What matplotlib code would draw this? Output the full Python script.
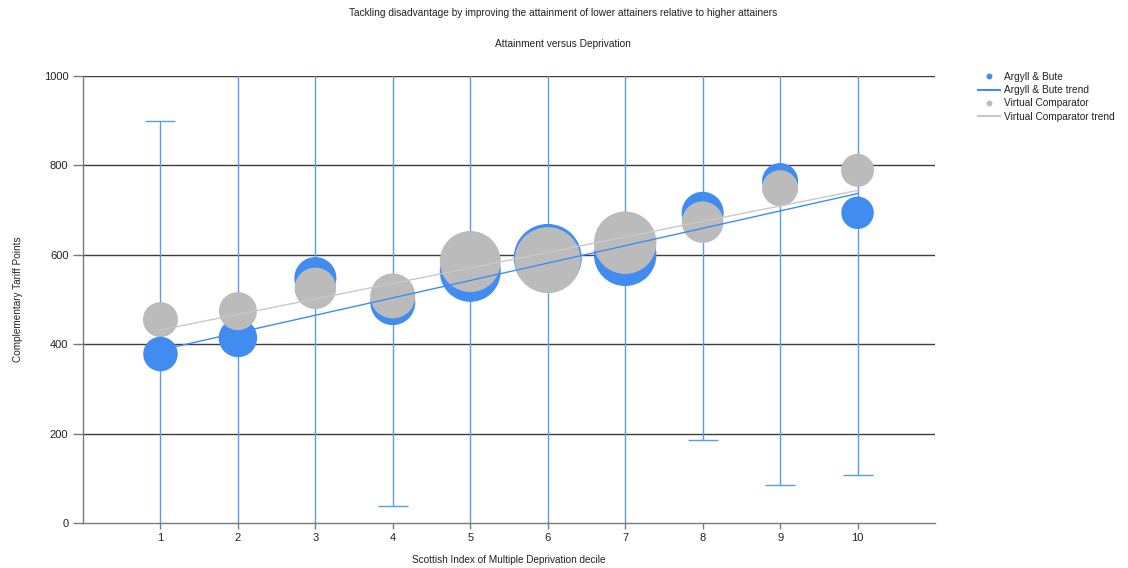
import matplotlib
matplotlib.use("Agg")
import matplotlib.pyplot as plt
from matplotlib.lines import Line2D
import numpy as np

plt.rcParams['font.family'] = ['Liberation Sans', 'DejaVu Sans']

# ---- data ----
deciles = [1, 2, 3, 4, 5, 6, 7, 8, 9, 10]
ab_points = [378, 414, 548, 493, 563, 593, 600, 694, 765, 694]
vc_points = [455, 474, 525, 508, 585, 588, 627, 673, 749, 789]
ab_size = [34.5, 38.5, 42, 45, 61, 68, 62.5, 42, 36, 32.5]
vc_size = [35, 38, 41.5, 45, 61, 66, 62.5, 41.5, 36, 33]
ab_low = [-200, -200, -200, 38, -200, -200, -200, 186, 85, 107]
ab_high = [900, 1200, 1200, 1200, 1200, 1200, 1200, 1200, 1200, 1200]
trend_x = [1, 10]
ab_trend = [387, 737]
vc_trend = [432, 744]
yticks = [0, 200, 400, 600, 800, 1000]

title1 = "Tackling disadvantage by improving the attainment of lower attainers relative to higher attainers"
title2 = "Attainment versus Deprivation"

BLUE = '#418CF0'
GRAY = '#BBBBBB'
ERR = '#5B9BEB'

W, H = 1128, 568
fig = plt.figure(figsize=(W / 100, H / 100), dpi=100)
ax = fig.add_axes([83 / W, 1 - 523 / H, (935 - 83) / W, (523 - 76) / H])
ax.set_xlim(0, 11)
ax.set_ylim(0, 1000)

# gridlines
for yv in yticks[1:]:
    ax.axhline(yv, color='#3c3c3c', lw=1.0, zorder=1)

# error bars
ab_arr = np.array(ab_points, dtype=float)
lo = ab_arr - np.array(ab_low)
hi = np.array(ab_high) - ab_arr
ax.errorbar(deciles, ab_points, yerr=[lo, hi], fmt='none', ecolor=ERR,
            elinewidth=1.0, capsize=11, capthick=1.0, zorder=2)

# bubbles: larger drawn first, comparator on top when tied
px2pt = 0.72
for i, d in enumerate(deciles):
    pair = [(ab_size[i], ab_points[i], BLUE, 0), (vc_size[i], vc_points[i], GRAY, 1)]
    pair.sort(key=lambda t: (-t[0], t[3]))
    for k, (sz, yv, col, _) in enumerate(pair):
        ax.scatter([d], [yv], s=(sz * px2pt) ** 2, color=col, edgecolors='none',
                   zorder=3 + k, clip_on=True)

# trend lines
ax.plot(trend_x, vc_trend, color='#C8C8C8', lw=1.0, zorder=6)
ax.plot(trend_x, ab_trend, color=BLUE, lw=1.0, zorder=6)

# axes styling
for s in ['top', 'right']:
    ax.spines[s].set_visible(False)
for s in ['left', 'bottom']:
    ax.spines[s].set_color('#7a7a7a')
    ax.spines[s].set_linewidth(1.0)
ax.set_xticks(deciles)
ax.set_yticks(yticks)
ax.tick_params(axis='both', colors='#7a7a7a', labelcolor='#222222', labelsize=8,
               width=1, direction='out')
ax.tick_params(axis='y', length=7.5, pad=3)
ax.tick_params(axis='x', length=4.5, pad=3)

ax.set_xlabel("Scottish Index of Multiple Deprivation decile", fontsize=7.2, color='#222222', labelpad=8)
ax.set_ylabel("Complementary Tariff Points", fontsize=7.2, color='#222222', labelpad=15)

fig.text(563 / W, 1 - 13 / H, title1, ha='center', va='center', fontsize=7.3, color='#222222')
fig.text(563 / W, 1 - 44 / H, title2, ha='center', va='center', fontsize=7.3, color='#222222')

handles = [
    Line2D([0], [0], linestyle='none', marker='o', markersize=3.2, color=BLUE),
    Line2D([0], [0], color=BLUE, lw=1.5),
    Line2D([0], [0], linestyle='none', marker='o', markersize=3.2, color=GRAY),
    Line2D([0], [0], color='#C8C8C8', lw=1.5),
]
labels = ["Argyll & Bute", "Argyll & Bute trend", "Virtual Comparator", "Virtual Comparator trend"]
fig.legend(handles, labels, loc='upper left', bbox_to_anchor=(978 / W, 1 - 72 / H),
           frameon=False, fontsize=7.3, handlelength=2.2, handletextpad=0.35,
           labelspacing=0.32, borderaxespad=0, borderpad=0, labelcolor='#222222')

fig.savefig("out.png", dpi=100)
